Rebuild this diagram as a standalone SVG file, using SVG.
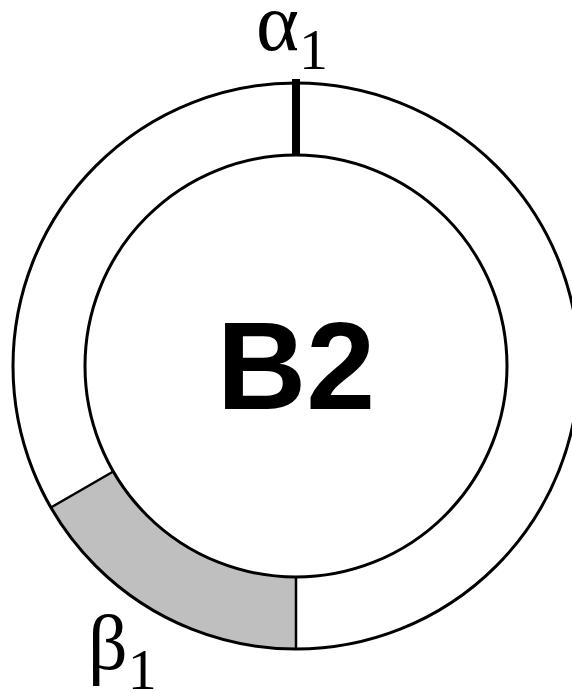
<svg xmlns="http://www.w3.org/2000/svg" width="572" height="693" viewBox="0 0 572 693">
<style>
.ring{fill:none;stroke:#000;stroke-width:3}
.sep{stroke:#000;stroke-width:2.5}
.greek{font-family:"Liberation Serif","DejaVu Serif",serif;fill:#000}
.title{font-family:"Liberation Sans",Arial,sans-serif;font-weight:bold;fill:#000}
</style>
<rect width="572" height="693" fill="#fff"/>
<g id="segment-beta1">
<path d="M 296 649 A 283 283 0 0 1 50.9 507.5 L 113.3 471.5 A 211 211 0 0 0 296 577 Z" fill="#bfbfbf" stroke="none"/>
</g>
<g id="rings">
<circle class="ring" cx="296" cy="366" r="283"/>
<circle class="ring" cx="296" cy="366" r="211"/>
</g>
<g id="connectors">
<line class="sep" x1="296" y1="577" x2="296" y2="649"/>
<line class="sep" x1="113.3" y1="471.5" x2="50.9" y2="507.5"/>
<line x1="296" y1="79" x2="296" y2="156" stroke="#000" stroke-width="8"/>
</g>
<g id="label-alpha1">
<text class="greek" x="256" y="50" font-size="82">α<tspan font-size="58" dy="19">1</tspan></text>
</g>
<g id="label-beta1">
<text class="greek" x="88" y="669" font-size="78">β<tspan font-size="58" dy="20">1</tspan></text>
</g>
<g id="node-B2">
<text class="title" x="296" y="409" font-size="124" text-anchor="middle">B2</text>
</g>
</svg>
